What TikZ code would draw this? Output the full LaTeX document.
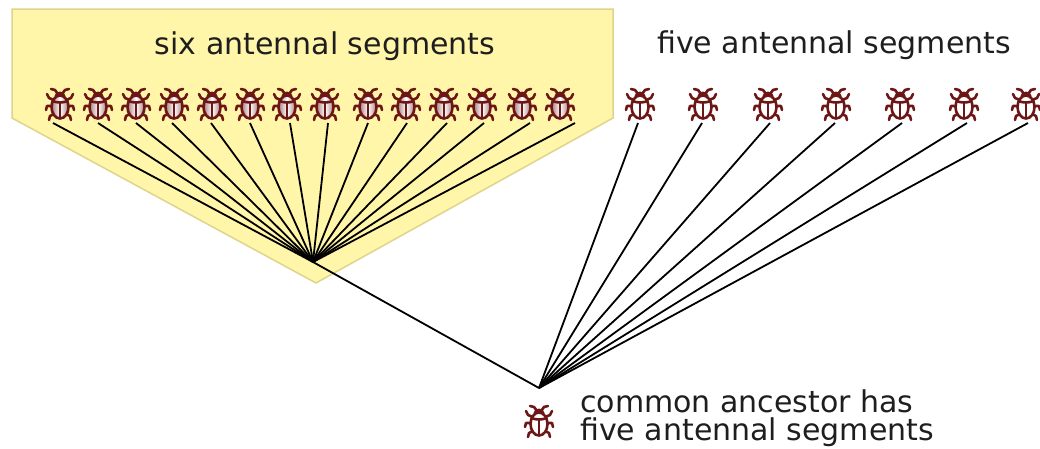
\documentclass[tikz,border=0pt]{standalone}
\usepackage{fontspec}
\setmainfont{DejaVu Sans}
\begin{document}
\definecolor{bugred}{RGB}{108,22,22}
\definecolor{cladefill}{RGB}{255,246,170}
\definecolor{cladeedge}{RGB}{222,212,140}
\definecolor{inktext}{RGB}{30,30,30}
\newcommand\bugbody[1]{%
  % antennae
  \draw[bugline] (-2,-10) -- (-5,-14) -- (-9,-15);
  \draw[bugline] (2,-10) -- (5,-14) -- (9,-15);
  % legs
  \draw[bugline] (-6,-4) -- (-11,-6) -- (-13,-10);
  \draw[bugline] (6,-4) -- (11,-6) -- (13,-10);
  \draw[bugline] (-7,2) -- (-13,2) -- (-14,6);
  \draw[bugline] (7,2) -- (13,2) -- (14,6);
  \draw[bugline] (-6,10) -- (-10,12) -- (-11,16);
  \draw[bugline] (6,10) -- (10,12) -- (11,16);
  % head
  \fill[bugred] (0,-8) ellipse [x radius=5.5, y radius=4.5];
  % body with wing covers
  \draw[bugline, #1] (0,3) ellipse [x radius=8.5, y radius=11.5];
  \draw[bugline] (-7.5,-3) .. controls (-3,-1) and (3,-1) .. (7.5,-3);
  \draw[bugline] (0,-1) -- (0,14);
}
\tikzset{
  x=1pt, y=-1pt,
  bugline/.style={draw=bugred, line width=2.6pt, line cap=round, line join=round},
  shinybug/.pic={\bugbody{left color=bugred!55, right color=bugred!55, middle color=white}},
  plainbug/.pic={\bugbody{fill=white}},
  branch/.style={draw=black, line width=1.8pt},
  caption/.style={font=\fontsize{30}{28}\selectfont, text=inktext, inner sep=0pt}
}
\begin{tikzpicture}
\useasboundingbox (0,0) rectangle (1040,448);

% clade box behind the six-segment group
\draw[fill=cladefill, draw=cladeedge, line width=1.5pt, line join=miter]
  (12,9) -- (613,9) -- (613,118) -- (316,283) -- (12,118) -- cycle;

\node[caption, anchor=base] (six) at (325,54) {six antennal segments};
\node[caption, anchor=base west] (five) at (657,53) {five antennal segments};

% branching points
\coordinate (apexL) at (313,262);
\coordinate (root) at (539,388);

% six-segment group: bug x / branch tip x
\foreach \bx/\tx [count=\i] in {60/53, 98/98, 136/136, 174/172, 212/211, 250/250,
    287/290, 325/328, 368/368, 406/407, 444/447, 482/484, 522/530, 560/575} {
  \pic (L\i) at (\bx,104) {shinybug};
  \coordinate (tipL\i) at (\tx,123);
  \draw[branch] (apexL) -- (tipL\i);
}

% five-segment group
\foreach \bx/\tx [count=\i] in {640/638, 703/702, 768/770, 836/835, 900/902,
    964/967, 1026/1028} {
  \pic (R\i) at (\bx,104) {plainbug};
  \coordinate (tipR\i) at (\tx,123);
  \draw[branch] (root) -- (tipR\i);
}

\draw[branch] (root) -- (apexL);

% ancestor
\pic (anc) at (539,421) {plainbug};
\node[caption, anchor=base west] (ancA) at (580,412) {common ancestor has};
\node[caption, anchor=base west] (ancB) at (580,440) {five antennal segments};
\end{tikzpicture}
\end{document}
